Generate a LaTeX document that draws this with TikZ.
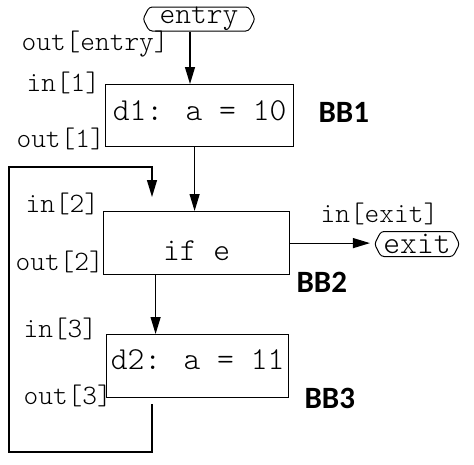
\documentclass[tikz,border=0pt]{standalone}
\usepackage{fontspec}
\newfontfamily\bbfont{Carlito}
\usetikzlibrary{arrows.meta,shapes.symbols}

\begin{document}
\begin{tikzpicture}
    [
        x = 1pt, y = -1pt, line width = 1.2pt,
        block/.style = {draw, anchor = north west, inner sep = 0pt, align = center,
            font = \fontsize{32}{32}\fontseries{l}\ttfamily},
        term/.style = {draw, shape = signal, signal to = west and east, signal pointer angle = 125,
            rounded corners = 3pt, inner sep = 0pt, line width = 1pt},
        tag/.style = {anchor = base west, inner sep = 0pt, font = \fontsize{28}{28}\fontseries{l}\ttfamily},
        bb/.style = {anchor = base west, inner sep = 0pt, font = \fontsize{31}{31}\bbfont\bfseries},
        flow/.style = {-{Triangle[length = 17pt, width = 10pt]}}
    ]

    \useasboundingbox (0,0) rectangle (474,464);

    \node[term, minimum width = 112pt, minimum height = 24pt, font = \fontsize{30}{30}\fontseries{l}\ttfamily]
        (entry) at (199,19) {entry};
    \node[block, minimum width = 188pt, text height = 36pt, text depth = 26pt] (b1) at (105,84) {d1: a = 10};
    \node[block, minimum width = 186pt, text height = 49pt, text depth = 14pt] (b2) at (103,211) {if e};
    \node[block, minimum width = 182pt, text height = 35pt, text depth = 28pt] (b3) at (106,334) {d2: a = 11};
    \node[term, minimum width = 85pt, minimum height = 25pt, font = \fontsize{32}{32}\fontseries{l}\ttfamily]
        (exit) at (417,244) {exit};

    \node[tag] (outentry) at (21,50) {out[entry]};
    \node[tag] (in1) at (26,91) {in[1]};
    \node[tag] (out1) at (16,147) {out[1]};
    \node[tag] (in2) at (25,212) {in[2]};
    \node[tag] (out2) at (15,270) {out[2]};
    \node[tag] (inexit) at (320,222) {in[exit]};
    \node[tag] (in3) at (23,337) {in[3]};
    \node[tag] (out3) at (23,404) {out[3]};

    \node[bb] (bb1) at (318,122) {BB1};
    \node[bb] (bb2) at (296,292) {BB2};
    \node[bb] (bb3) at (304,408) {BB3};

    \coordinate (loopstart) at (152,404);
    \coordinate (loopend) at (152,197);

    \draw[flow] ([xshift = -9pt]entry.south) -- ([xshift = -9pt]entry.south |- b1.north);
    \draw[flow] ([xshift = -5pt]b1.south) -- ([xshift = -5pt]b1.south |- b2.north);
    \draw[flow] ([xshift = -41pt]b2.south) -- ([xshift = -41pt]b2.south |- b3.north);
    \draw[flow, shorten > = 4pt] (b2.east) -- (b2.east -| exit.west);
    \draw[flow] (loopstart) -- ++(0,48) -| (9,167) -| (loopend);
\end{tikzpicture}
\end{document}
